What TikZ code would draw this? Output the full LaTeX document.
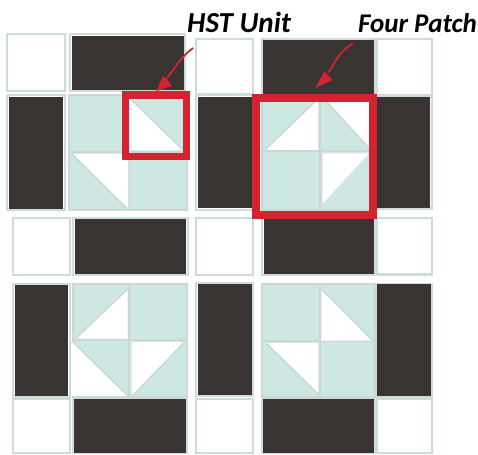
\documentclass[tikz,border=0pt]{standalone}
\usepackage{fontspec}
\setmainfont{Carlito}
\usetikzlibrary{arrows.meta}
\definecolor{edgegrey}{HTML}{CDDCDA}
\definecolor{seam}{HTML}{CBD8D5}
\definecolor{ink}{HTML}{393431}
\definecolor{teal}{HTML}{CDE8E3}
\definecolor{quiltred}{HTML}{D2232E}
\tikzset{
  cellbox/.style={draw=edgegrey,line width=2.2pt,fill=white},
  darkfill/.style={fill=ink,draw=none},
  tealbox/.style={draw=seam,line width=2pt,fill=teal},
  seamline/.style={draw=seam,line width=2pt},
  hypot/.style={draw=seam,line width=3.4pt,line cap=butt},
  whitetri/.style={fill=white,draw=none},
  frame/.style={draw=quiltred,line width=7.8pt,line join=miter},
  pointer/.style={draw=quiltred,line width=1.8pt},
  arrowhead/.style={fill=quiltred,draw=none},
  caption/.style={font=\itshape\bfseries\fontsize{#1}{#1}\selectfont,text=black,inner sep=0pt,anchor=base west}
}
\newcommand{\whitecell}[4]{\path[cellbox] (#1+1,#2+1) rectangle (#3-1,#4-1);}
\newcommand{\darkcell}[8]{\path[cellbox] (#1+1,#2+1) rectangle (#3-1,#4-1); \path[darkfill] (#5,#6) rectangle (#7,#8);}
\newcommand{\tealblock}[6]{\path[tealbox] (#1+1,#2+1) rectangle (#3-1,#4-1);
  \path[seamline] (#5,#2+1) -- (#5,#4-1) (#1+1,#6) -- (#3-1,#6);}
% first and third corners end the hypotenuse
\newcommand{\halfsquare}[3]{\path[hypot] #1 -- #3; \path[whitetri] #1 -- #2 -- #3 -- cycle;}
\begin{document}
\begin{tikzpicture}[x=1pt,y=-1pt]
\useasboundingbox[fill=white] (0,0) rectangle (478,454);
% Row 1
\whitecell{6}{33}{66}{92}
\darkcell{69}{33}{186}{92}{71.5}{36}{183.5}{90}
\whitecell{195}{38}{254}{95}
\darkcell{261}{38}{376}{95}{262.7}{40}{374}{94}
\whitecell{376}{38}{433}{96.5}
% Row 2
\darkcell{6}{94}{66}{211}{8.7}{97}{63}{208.7}
\tealblock{68}{94}{188}{211}{128.5}{152}
\halfsquare{(129.3,99)}{(129.3,150.3)}{(182,150.3)}
\halfsquare{(73.3,154)}{(128.3,154)}{(128.3,208.5)}
\darkcell{195}{94}{254}{211}{198}{97}{251.7}{207.5}
\tealblock{261}{94}{376}{211}{320}{151}
\halfsquare{(266.3,150)}{(318,150)}{(318,100)}
\halfsquare{(326.3,100)}{(369,100)}{(369,146.7)}
\halfsquare{(322.3,153.3)}{(369,153.3)}{(322.3,204)}
\darkcell{376}{96}{433}{209.5}{376.7}{96.7}{429.7}{208}
% Row 3
\whitecell{12.3}{217}{70.7}{276}
\darkcell{71.7}{217}{189}{276}{75.3}{219}{185.7}{273.7}
\whitecell{195}{217}{254}{276}
\darkcell{261}{217}{376.3}{276}{263.7}{219}{374}{273.7}
\whitecell{376.3}{217}{433}{275.5}
% Row 4
\darkcell{12.3}{282.7}{70.7}{397.5}{14.7}{285.3}{68.3}{395.7}
\tealblock{71.7}{282.7}{188.3}{397.7}{129.3}{340.3}
\halfsquare{(76.7,338.7)}{(127.7,338.7)}{(127.7,290.3)}
\halfsquare{(71.7,342)}{(71.7,396)}{(126.7,396)}
\halfsquare{(131.7,395.3)}{(131.7,342)}{(183.3,342)}
\darkcell{195}{282}{254}{397}{198}{284.3}{252}{395.3}
\tealblock{261.3}{282.7}{376.3}{397.7}{320}{341.3}
\halfsquare{(321.3,290.3)}{(321.3,340.5)}{(371.3,340.5)}
\halfsquare{(267.3,343)}{(318.3,343)}{(318.3,393)}
\darkcell{376.3}{282.7}{433}{397.5}{376.7}{284.3}{431.3}{396}
% Row 5
\whitecell{12.3}{397.7}{70.7}{453.7}
\darkcell{71.7}{397.7}{188.3}{453.7}{74}{398.7}{186}{452.7}
\whitecell{195}{397.7}{254}{453.7}
\darkcell{261}{397.7}{376.3}{453.7}{262.7}{398.7}{374}{452.7}
\whitecell{376.3}{397.7}{433}{453.7}
% Red frames
\path[frame] (125.4,95.4) rectangle (186.4,156.6);
\path[frame] (256,98.3) rectangle (373,215);
% Captions
\node[caption=29] (hstlabel) at (187,33) {HST Unit};
\node[caption=27] (fourlabel) at (358,33) {Four Patch};
% Pointers
\coordinate (hstfrom) at (193,48);
\coordinate (hstneck) at (167,78);
\coordinate (hsttip) at (156,91.5);
\coordinate (fourfrom) at (353,43.5);
\coordinate (fourneck) at (328,73);
\coordinate (fourtip) at (315.3,88);
\draw[pointer] (hstfrom) .. controls (181,57) and (175,68) .. (hstneck);
\path[arrowhead] (hsttip) -- (163,76) -- (167,79) -- (172,86) -- cycle;
\draw[pointer] (fourfrom) .. controls (338,52) and (335,63) .. (fourneck);
\path[arrowhead] (fourtip) -- (324,71.7) -- (328,75) -- (332.3,80) -- cycle;
\end{tikzpicture}
\end{document}
